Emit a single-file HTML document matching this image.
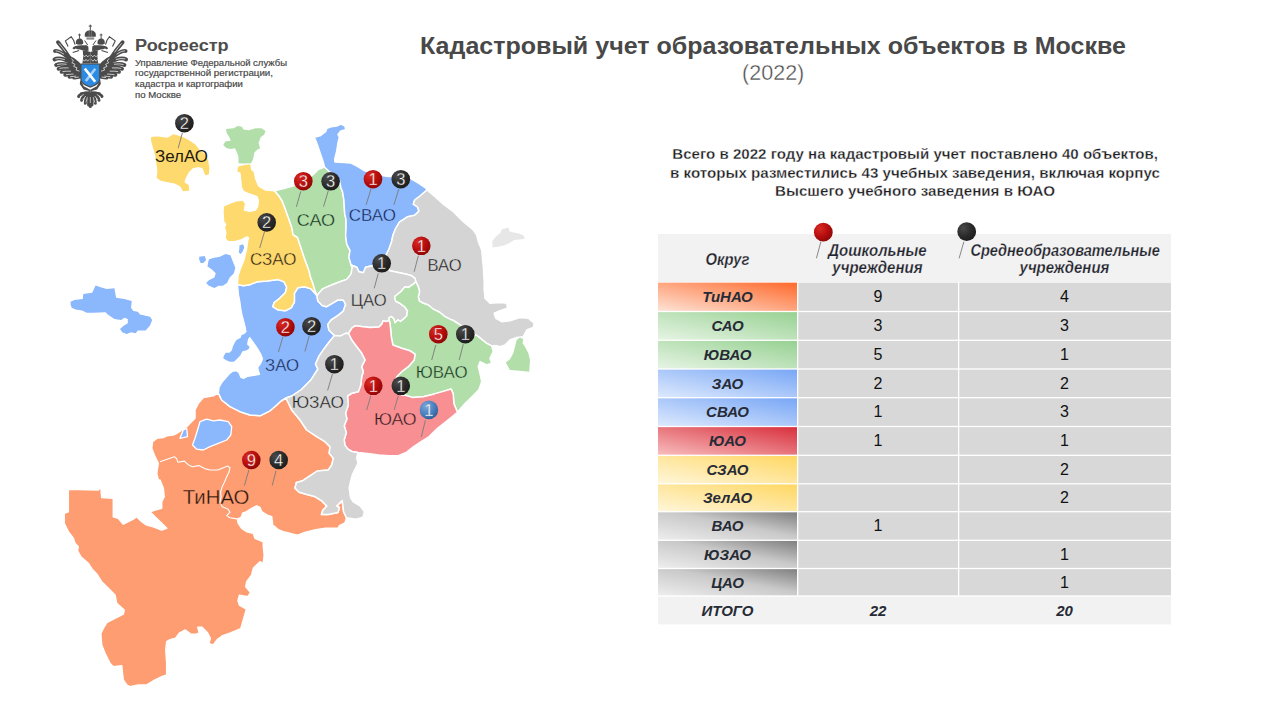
<!DOCTYPE html>
<html><head><meta charset="utf-8"><style>
html,body{margin:0;padding:0;background:#fff;}
svg{display:block;font-family:"Liberation Sans",sans-serif;}
.pa{font-size:14.5px;font-weight:bold;fill:#1c1c22;stroke:#fff;stroke-width:0.3px;}
.lg{font-size:8.2px;fill:#474747;stroke:#474747;stroke-width:0.18px;}
.th{font-size:16.3px;font-weight:bold;font-style:italic;fill:#1e222b;stroke:#f2f2f2;stroke-width:0.25px;}
.ti{font-size:15px;font-weight:bold;font-style:italic;fill:#262b35;}
.nu{font-size:16px;fill:#111;}
</style></head><body>
<svg width="1280" height="720" viewBox="0 0 1280 720">
<defs><radialGradient id="gr" cx="0.32" cy="0.3" r="0.8"><stop offset="0" stop-color="#d92a22"/><stop offset="0.55" stop-color="#b50d0d"/><stop offset="1" stop-color="#880707"/></radialGradient><radialGradient id="gk" cx="0.32" cy="0.3" r="0.8"><stop offset="0" stop-color="#4a4a4a"/><stop offset="0.55" stop-color="#2b2b2b"/><stop offset="1" stop-color="#1a1a1a"/></radialGradient><radialGradient id="gb" cx="0.35" cy="0.3" r="0.75"><stop offset="0" stop-color="#7aa6d6"/><stop offset="0.6" stop-color="#4a80bd"/><stop offset="1" stop-color="#2f5f96"/></radialGradient><linearGradient id="tor" x1="0" y1="1" x2="1" y2="0"><stop offset="0" stop-color="#fde3d6"/><stop offset="1" stop-color="#ff6a2c"/></linearGradient><linearGradient id="tgr" x1="0" y1="1" x2="1" y2="0"><stop offset="0" stop-color="#e6f4e4"/><stop offset="1" stop-color="#97d192"/></linearGradient><linearGradient id="tbl" x1="0" y1="1" x2="1" y2="0"><stop offset="0" stop-color="#dde9fd"/><stop offset="1" stop-color="#79a7f6"/></linearGradient><linearGradient id="trd" x1="0" y1="1" x2="1" y2="0"><stop offset="0" stop-color="#f8bcbd"/><stop offset="1" stop-color="#d8303d"/></linearGradient><linearGradient id="tye" x1="0" y1="1" x2="1" y2="0"><stop offset="0" stop-color="#fff6da"/><stop offset="1" stop-color="#ffd762"/></linearGradient><linearGradient id="tgy" x1="0" y1="1" x2="1" y2="0"><stop offset="0" stop-color="#ededed"/><stop offset="0.55" stop-color="#c9c9c9"/><stop offset="1" stop-color="#808080"/></linearGradient></defs>
<rect width="1280" height="720" fill="#fff"/>

<text x="420" y="53.75" font-size="24.5" font-weight="bold" fill="#484848" textLength="706" lengthAdjust="spacingAndGlyphs">Кадастровый учет образовательных объектов в Москве</text>
<text x="742" y="80" font-size="21.5" fill="#474747" stroke="#fff" stroke-width="0.4" textLength="62.3" lengthAdjust="spacingAndGlyphs">(2022)</text>
<text x="672.3" y="158.75" class="pa" textLength="485.7" lengthAdjust="spacingAndGlyphs">Всего в 2022 году на кадастровый учет поставлено 40 объектов,</text>
<text x="670" y="177.5" class="pa" textLength="490" lengthAdjust="spacingAndGlyphs">в которых разместились 43 учебных заведения, включая корпус</text>
<text x="775" y="196.25" class="pa" textLength="280" lengthAdjust="spacingAndGlyphs">Высшего учебного заведения в ЮАО</text>
<text x="135" y="51.25" font-size="17.4" font-weight="bold" fill="#4d4d4d" textLength="93.7" lengthAdjust="spacingAndGlyphs">Росреестр</text>
<text x="135" y="65.6" class="lg" textLength="152" lengthAdjust="spacingAndGlyphs">Управление Федеральной службы</text>
<text x="135" y="76.4" class="lg" textLength="138" lengthAdjust="spacingAndGlyphs">государственной регистрации,</text>
<text x="135" y="87" class="lg" textLength="107.8" lengthAdjust="spacingAndGlyphs">кадастра и картографии</text>
<text x="135" y="97.5" class="lg" textLength="46" lengthAdjust="spacingAndGlyphs">по Москве</text>


<g id="lg">
<g>
 <path d="M68,55 L74,58 L79,62 L81.8,65.5 L81.8,75 L79,74 L75,68 L70,61 Z" fill="#4b4b4b"/>
 <g stroke="#4b4b4b" stroke-width="3.9" fill="none" stroke-linecap="round"><path d="M71,60 Q64.5,49.5 58,42.2"/><path d="M72.5,61.5 Q60,49.5 55,51"/><path d="M74.5,64.2 Q60,56 54.5,59.5"/><path d="M76.2,67 Q62,62 56.2,65"/><path d="M77.5,69.5 Q64.5,66.5 58.6,68.8"/><path d="M78.6,71.8 Q67.5,70.5 61.6,71.8"/><path d="M79.6,73.8 Q71,74 65.2,74.8"/><path d="M80.4,75.4 Q74.5,76.4 69.5,76.8"/><path d="M81,76.4 Q78,77.4 74.2,77.6"/></g><g stroke="#fff" stroke-width="0.7" fill="none" stroke-linecap="round" stroke-linejoin="round"><path d="M65.80,52.11 L62.55,47.70 L59.30,43.69"/><path d="M63.70,54.06 L59.42,51.60 L56.08,50.84"/><path d="M64.34,59.51 L59.45,58.48 L55.69,58.92"/><path d="M66.18,64.28 L61.29,63.88 L57.44,64.48"/><path d="M68.24,67.95 L63.60,67.84 L59.85,68.39"/><path d="M70.55,71.18 L66.37,71.21 L62.83,71.57"/><path d="M73.17,74.06 L69.60,74.31 L66.39,74.65"/><path d="M75.82,76.10 L73.11,76.45 L70.51,76.71"/><path d="M78.47,77.07 L76.76,77.36 L74.95,77.55"/></g>
 <path d="M71.5,58.5 L73.5,61 L71.8,62.6 L75,64.4 L73.6,66.4 L77,67.8 L76,70 L79.5,71.2" stroke="#fff" stroke-width="0.7" fill="none"/>
 <!-- crown side -->
 <path d="M76,44 C75.3,41 76.5,38.6 79.5,38.2 C82.5,38.6 83.7,41 83,44 Z" fill="#4b4b4b"/>
 <rect x="77.3" y="44" width="4.9" height="1.2" fill="#8c8c8c"/>
 <rect x="79.05" y="33.6" width="0.9" height="4.8" fill="#4b4b4b"/>
 <rect x="78.1" y="34.5" width="2.8" height="0.9" fill="#4b4b4b"/>
 <!-- head -->
 <path d="M72.4,48.3 L73.8,46.8 L75.6,46.1 L79,45.6 L83,45.2 L86.6,45.2 L88.3,46.5 L88.6,50.7 L86,51 L83,50.6 L80,49.6 L77.5,49.2 L75.5,48.6 L74,49.4 Z" fill="#4b4b4b"/>
 <path d="M72.7,52.6 L79.1,50.6" stroke="#4b4b4b" stroke-width="1.1" fill="none"/>
 <!-- sceptre/claw -->
 <path d="M68.1,46.4 L65.4,40.9 L71.2,36.7 L73.6,40.3 L75.1,44.6" stroke="#4b4b4b" stroke-width="1.15" fill="none" stroke-linejoin="round"/>
 <!-- neck -->
 <path d="M82.8,50.6 L86.5,50.8 L90.3,52 L90.3,63.6 L82.4,63.6 L83.2,57 Z" fill="#4b4b4b"/>
 <g stroke="#fff" stroke-width="0.7" fill="none">
  <path d="M83,55.2 L84.6,56.8 L86.2,55.2 L87.8,56.8 L89.4,55.2"/>
  <path d="M82.8,59.4 L84.4,61.2 L86,59.4 L87.6,61.2 L89.2,59.4"/>
 </g>
 <path d="M84.6,40.5 L87.7,45" stroke="#4b4b4b" stroke-width="1" fill="none"/>
 <!-- tail half -->
 <path d="M80,92.5 L90.3,91 L90.3,95 L82,96 Z" fill="#4b4b4b"/>
 <g stroke="#4b4b4b" stroke-width="3" fill="none" stroke-linecap="round">
  <path d="M86,93 Q80,93.5 78.6,96.5"/>
  <path d="M87.2,94 Q82.5,96 81.6,100.2"/>
  <path d="M88.4,94.5 Q85.5,98 85.3,103.2"/>
  <path d="M89.5,95 Q88.5,100 88.6,105"/>
 </g>
 <g stroke="#fff" stroke-width="0.65" fill="none" stroke-linecap="round">
  <path d="M83.5,94.6 L80.2,96.8"/>
  <path d="M85.6,96.3 L82.8,99.8"/>
  <path d="M87.3,97.6 L86,102.2"/>
 </g>
 <!-- leg/scroll -->
 <path d="M80.3,80 L83.8,86.2 L90.3,89.8 L90.3,91.2 L83.6,89.6 L79.8,84 Z" fill="#4b4b4b"/>
</g>
<g transform="translate(180.6,0) scale(-1,1)">
 <path d="M68,55 L74,58 L79,62 L81.8,65.5 L81.8,75 L79,74 L75,68 L70,61 Z" fill="#4b4b4b"/>
 <g stroke="#4b4b4b" stroke-width="3.9" fill="none" stroke-linecap="round"><path d="M71,60 Q64.5,49.5 58,42.2"/><path d="M72.5,61.5 Q60,49.5 55,51"/><path d="M74.5,64.2 Q60,56 54.5,59.5"/><path d="M76.2,67 Q62,62 56.2,65"/><path d="M77.5,69.5 Q64.5,66.5 58.6,68.8"/><path d="M78.6,71.8 Q67.5,70.5 61.6,71.8"/><path d="M79.6,73.8 Q71,74 65.2,74.8"/><path d="M80.4,75.4 Q74.5,76.4 69.5,76.8"/><path d="M81,76.4 Q78,77.4 74.2,77.6"/></g><g stroke="#fff" stroke-width="0.7" fill="none" stroke-linecap="round" stroke-linejoin="round"><path d="M65.80,52.11 L62.55,47.70 L59.30,43.69"/><path d="M63.70,54.06 L59.42,51.60 L56.08,50.84"/><path d="M64.34,59.51 L59.45,58.48 L55.69,58.92"/><path d="M66.18,64.28 L61.29,63.88 L57.44,64.48"/><path d="M68.24,67.95 L63.60,67.84 L59.85,68.39"/><path d="M70.55,71.18 L66.37,71.21 L62.83,71.57"/><path d="M73.17,74.06 L69.60,74.31 L66.39,74.65"/><path d="M75.82,76.10 L73.11,76.45 L70.51,76.71"/><path d="M78.47,77.07 L76.76,77.36 L74.95,77.55"/></g>
 <path d="M71.5,58.5 L73.5,61 L71.8,62.6 L75,64.4 L73.6,66.4 L77,67.8 L76,70 L79.5,71.2" stroke="#fff" stroke-width="0.7" fill="none"/>
 <!-- crown side -->
 <path d="M76,44 C75.3,41 76.5,38.6 79.5,38.2 C82.5,38.6 83.7,41 83,44 Z" fill="#4b4b4b"/>
 <rect x="77.3" y="44" width="4.9" height="1.2" fill="#8c8c8c"/>
 <rect x="79.05" y="33.6" width="0.9" height="4.8" fill="#4b4b4b"/>
 <rect x="78.1" y="34.5" width="2.8" height="0.9" fill="#4b4b4b"/>
 <!-- head -->
 <path d="M72.4,48.3 L73.8,46.8 L75.6,46.1 L79,45.6 L83,45.2 L86.6,45.2 L88.3,46.5 L88.6,50.7 L86,51 L83,50.6 L80,49.6 L77.5,49.2 L75.5,48.6 L74,49.4 Z" fill="#4b4b4b"/>
 <path d="M72.7,52.6 L79.1,50.6" stroke="#4b4b4b" stroke-width="1.1" fill="none"/>
 <!-- sceptre/claw -->
 <path d="M68.1,46.4 L65.4,40.9 L71.2,36.7 L73.6,40.3 L75.1,44.6" stroke="#4b4b4b" stroke-width="1.15" fill="none" stroke-linejoin="round"/>
 <!-- neck -->
 <path d="M82.8,50.6 L86.5,50.8 L90.3,52 L90.3,63.6 L82.4,63.6 L83.2,57 Z" fill="#4b4b4b"/>
 <g stroke="#fff" stroke-width="0.7" fill="none">
  <path d="M83,55.2 L84.6,56.8 L86.2,55.2 L87.8,56.8 L89.4,55.2"/>
  <path d="M82.8,59.4 L84.4,61.2 L86,59.4 L87.6,61.2 L89.2,59.4"/>
 </g>
 <path d="M84.6,40.5 L87.7,45" stroke="#4b4b4b" stroke-width="1" fill="none"/>
 <!-- tail half -->
 <path d="M80,92.5 L90.3,91 L90.3,95 L82,96 Z" fill="#4b4b4b"/>
 <g stroke="#4b4b4b" stroke-width="3" fill="none" stroke-linecap="round">
  <path d="M86,93 Q80,93.5 78.6,96.5"/>
  <path d="M87.2,94 Q82.5,96 81.6,100.2"/>
  <path d="M88.4,94.5 Q85.5,98 85.3,103.2"/>
  <path d="M89.5,95 Q88.5,100 88.6,105"/>
 </g>
 <g stroke="#fff" stroke-width="0.65" fill="none" stroke-linecap="round">
  <path d="M83.5,94.6 L80.2,96.8"/>
  <path d="M85.6,96.3 L82.8,99.8"/>
  <path d="M87.3,97.6 L86,102.2"/>
 </g>
 <!-- leg/scroll -->
 <path d="M80.3,80 L83.8,86.2 L90.3,89.8 L90.3,91.2 L83.6,89.6 L79.8,84 Z" fill="#4b4b4b"/>
</g>
<path d="M90.3,94 L90.3,106.4" stroke="#4b4b4b" stroke-width="3" stroke-linecap="round"/>
<path d="M90.3,97 L90.3,103" stroke="#fff" stroke-width="0.6"/>
<!-- center crown -->
<path d="M84.9,36.8 C84.2,32.8 85.8,30.7 90.3,30.3 C94.8,30.7 96.4,32.8 95.7,36.8 Z" fill="#4b4b4b"/>
<rect x="86.4" y="37.4" width="7.8" height="2.2" fill="#8c8c8c"/>
<rect x="89.8" y="24.6" width="1" height="5.8" fill="#4b4b4b"/>
<rect x="88.7" y="25.6" width="3.2" height="1" fill="#4b4b4b"/>
<path d="M89.2,31 L89.2,36.6 M91.4,31 L91.4,36.6" stroke="#8c8c8c" stroke-width="0.6"/>
<!-- shield -->
<path d="M80.4,63.5 L100.2,63.5 L100.2,79.5 C100.2,83.5 95,86.2 90.3,87.7 C85.6,86.2 80.4,83.5 80.4,79.5 Z" fill="#4b4b4b"/>
<path d="M81.5,64.6 L99.1,64.6 L99.1,79.3 C99.1,82.7 94.6,84.9 90.3,86.4 C86,84.9 81.5,82.7 81.5,79.3 Z" fill="#2b8ae2"/>
<path d="M95.3,68.8 L85.8,81" stroke="#a8d0f5" stroke-width="2.6"/>
<path d="M84.8,68.6 L95.2,81.8" stroke="#fff" stroke-width="2.6"/>
</g>

<g stroke="#fff" stroke-width="1.5" stroke-linejoin="round">
<polygon points="218.3,393.0 221.7,400.0 230.0,406.7 240.0,411.7 250.0,415.0 260.0,415.8 270.0,410.8 276.7,405.0 281.0,401.0 286.0,398.0 291.7,410.0 300.0,420.0 306.7,430.0 316.7,436.7 325.0,441.7 330.0,446.7 329.2,453.3 333.3,458.3 331.7,465.0 328.3,470.0 317.2,471.0 310.3,475.6 302.0,481.1 296.4,482.5 295.0,488.1 299.2,492.2 306.1,494.3 314.4,496.4 321.4,500.6 326.9,506.1 322.8,510.3 321.4,514.4 328.3,514.4 338.0,512.4 339.4,507.5 336.7,506.1 342.2,500.6 343.6,511.7 346.5,518.0 345.0,522.8 339.4,525.6 338.0,528.3 325.6,528.3 315.8,529.7 304.7,532.5 297.8,535.3 293.3,534.2 286.7,532.5 283.3,531.7 278.3,529.7 275.0,526.7 272.8,525.6 272.1,520.0 271.7,516.7 266.7,515.0 261.7,511.7 260.0,507.5 256.7,505.8 251.7,508.3 246.7,511.7 242.5,513.3 241.7,516.7 237.5,520.0 238.3,523.3 241.7,528.3 246.7,531.7 253.3,533.3 255.0,538.3 263.3,541.7 263.3,546.7 264.2,555.0 263.3,563.3 260.0,561.7 253.3,568.3 251.7,575.0 246.7,581.7 245.8,586.7 250.6,592.5 247.8,596.7 239.4,595.3 238.0,600.8 239.4,605.0 246.4,609.2 243.6,618.9 240.8,628.6 231.1,632.8 222.8,635.6 217.2,639.7 213.0,645.3 208.9,643.2 210.3,638.3 207.5,632.8 202.0,627.2 197.8,627.2 199.2,632.8 196.4,634.2 190.8,634.2 185.3,630.0 179.7,632.8 175.6,638.3 170.0,639.7 166.7,641.7 165.8,650.0 166.7,663.3 166.7,675.0 161.7,676.7 155.0,680.0 146.7,685.0 138.3,685.0 130.0,686.7 126.7,685.0 123.3,680.0 122.5,673.3 121.7,665.8 113.3,666.7 110.0,663.3 105.0,653.3 101.7,645.0 100.8,633.3 103.3,628.3 106.7,622.5 115.0,618.3 123.3,614.2 124.2,610.0 116.7,603.3 115.0,595.0 108.3,588.3 101.7,581.7 96.7,574.0 92.0,569.0 88.3,563.3 80.8,556.7 77.5,550.8 78.3,546.7 75.0,543.3 73.3,538.3 68.3,531.7 64.2,523.3 64.2,513.3 68.3,511.7 68.3,489.2 98.3,490.0 100.8,486.7 101.7,497.5 113.3,498.3 113.3,516.7 118.3,518.3 123.3,524.2 128.3,521.7 133.3,519.2 136.7,516.7 141.7,521.7 146.7,525.0 153.3,526.7 161.7,530.0 166.7,528.3 161.7,523.3 155.0,516.7 150.0,511.7 155.0,510.0 161.7,508.3 161.7,501.7 164.2,496.7 163.3,488.3 160.0,480.0 158.3,480.0 156.7,473.3 158.3,463.3 155.0,456.7 151.7,448.3 152.5,441.7 156.7,438.3 163.3,437.5 166.7,435.8 173.3,435.0 176.7,433.3 181.7,430.0 186.7,426.7 190.0,423.3 195.0,418.3 195.0,410.0 198.3,403.3 203.3,397.5 213.3,395.8" fill="#fe9d71"/>
<polygon points="237.4,284.4 243.6,285.8 250.6,284.4 257.5,281.7 267.2,281.0 278.3,279.6 283.9,281.7 286.7,287.2 285.3,292.8 279.7,298.3 274.2,302.5 272.8,306.7 278.3,310.1 285.3,310.8 291.1,307.8 294.4,302.2 294.4,293.3 297.8,287.8 304.4,286.7 311.1,288.9 317.0,295.5 317.8,301.1 322.2,305.6 326.7,306.7 332.2,303.3 337.8,300.0 343.3,300.0 345.6,304.4 343.3,311.1 337.8,315.6 331.1,320.0 327.8,324.4 328.9,330.0 334.4,335.6 329.0,342.2 324.5,348.2 318.9,356.4 315.5,364.2 317.9,369.0 311.1,379.7 301.4,389.5 291.7,396.0 286.0,398.0 281.0,401.0 276.7,405.0 270.0,410.8 260.0,415.8 250.0,415.0 240.0,411.7 230.0,406.7 221.7,400.0 218.3,393.0 219.0,387.0 222.0,382.0 226.0,377.5 229.0,374.0 232.5,371.2 236.1,370.4 239.0,372.4 241.0,377.2 243.9,378.2 247.8,376.2 253.6,375.3 259.4,374.3 258.5,371.4 257.5,367.5 260.4,363.6 262.4,358.7 260.4,353.9 257.5,349.0 253.6,343.2 249.7,337.8 248.7,339.3 247.8,344.2 250.2,346.1 249.7,349.0 246.8,351.0 242.9,351.9 241.0,355.8 237.1,359.7 234.2,362.6 230.3,362.6 225.4,360.7 222.5,358.7 223.0,355.8 225.4,351.9 229.3,351.9 231.2,350.0 232.2,346.1 234.2,342.2 236.1,339.3 240.0,337.4 241.0,334.4 243.9,333.5 245.8,331.5 244.9,326.7 243.4,320.8 241.9,315.0 240.8,310.0 239.8,302.0 238.4,295.0" fill="#8bb7fd"/>
<polygon points="237.4,284.4 238.0,276.1 240.1,269.2 243.6,260.8 246.4,249.7 247.8,240.0 248.6,238.3 247.2,236.9 241.7,239.7 234.7,241.8 227.8,241.8 225.0,238.3 225.7,232.8 224.3,227.2 225.7,224.4 223.6,221.7 222.9,210.6 223.6,205.7 232.0,202.2 236.1,200.8 243.0,200.1 245.8,203.6 244.4,209.9 250.0,211.3 255.6,209.9 257.6,206.4 258.3,200.8 257.0,196.7 252.8,195.3 247.2,193.2 243.3,191.4 241.3,187.2 240.6,180.3 239.9,173.3 236.4,172.0 237.8,165.7 244.7,164.3 251.0,163.6 251.7,169.2 254.4,172.0 255.8,178.9 258.6,185.8 265.6,190.0 274.5,190.7 279.0,196.0 282.2,201.0 285.0,208.3 289.0,219.4 291.9,227.8 293.0,234.7 297.5,237.5 300.3,245.8 304.4,258.3 308.6,269.4 310.5,277.0 312.8,283.3 314.5,289.0 317.0,295.5 311.1,288.9 304.4,286.7 297.8,287.8 294.4,293.3 294.4,302.2 291.1,307.8 285.3,310.8 278.3,310.1 272.8,306.7 274.2,302.5 279.7,298.3 285.3,292.8 286.7,287.2 283.9,281.7 278.3,279.6 267.2,281.0 257.5,281.7 250.6,284.4 243.6,285.8" fill="#fdd96e"/>
<polygon points="274.5,190.7 283.9,188.6 293.6,185.8 304.7,180.3 313.0,174.7 318.6,169.2 324.5,167.0 329.7,172.0 335.3,174.7 339.4,180.3 340.8,187.2 342.5,191.7 343.9,200.0 344.7,213.9 346.0,219.4 346.1,227.8 345.6,235.0 346.7,243.9 350.0,250.6 348.9,257.2 351.1,265.0 352.2,267.2 351.1,273.9 346.7,279.4 340.6,281.5 332.2,284.7 322.5,288.9 317.0,295.5 314.5,289.0 312.8,283.3 310.5,277.0 308.6,269.4 304.4,258.3 300.3,245.8 297.5,237.5 293.0,234.7 291.9,227.8 289.0,219.4 285.0,208.3 282.2,201.0 279.0,196.0" fill="#b2deaa"/>
<polygon points="324.5,167.0 322.8,160.8 320.0,152.5 317.2,144.2 314.4,137.2 320.0,135.8 325.6,131.7 326.9,128.2 331.1,126.8 336.7,126.1 340.8,124.0 345.0,126.1 345.7,129.6 340.8,131.0 338.0,134.4 339.4,137.2 338.0,142.8 336.7,151.1 334.6,159.4 335.0,162.0 343.9,162.5 350.6,162.9 357.8,166.7 364.7,170.8 374.4,174.3 388.3,176.4 399.4,176.4 410.6,178.5 418.9,183.3 425.8,188.2 427.0,190.0 420.3,195.8 414.7,200.0 413.3,204.2 417.5,207.0 418.9,211.1 414.7,215.3 407.8,216.7 399.4,222.2 395.3,229.2 393.0,235.0 391.5,242.0 389.0,249.0 386.0,255.0 384.0,262.0 377.0,265.0 371.1,266.1 365.6,267.2 363.3,272.8 358.9,271.7 356.7,267.2 351.1,265.0 348.9,257.2 350.0,250.6 346.7,243.9 345.6,235.0 346.1,227.8 346.0,219.4 344.7,213.9 343.9,200.0 342.5,191.7 340.8,187.2 339.4,180.3 335.3,174.7 329.7,172.0" fill="#8bb7fd"/>
<polygon points="427.0,190.0 435.0,196.7 443.3,204.2 453.3,211.7 463.3,221.7 473.3,230.0 476.7,235.0 478.3,241.7 481.7,250.0 483.3,266.7 484.2,281.7 484.2,290.0 485.0,298.3 490.0,303.3 500.0,302.5 506.7,303.3 507.5,308.3 500.0,310.8 494.2,313.3 495.8,318.3 501.7,321.7 510.0,320.8 520.0,317.5 528.3,318.3 534.2,323.3 533.3,327.5 526.7,330.0 523.3,336.7 516.7,337.5 510.0,340.0 505.0,345.0 500.0,346.7 496.7,345.8 491.7,345.8 486.7,343.3 478.3,336.7 470.0,331.7 461.7,325.8 453.3,320.5 450.0,319.2 445.0,316.7 440.0,312.5 433.3,309.2 428.3,305.0 423.3,303.3 419.2,300.8 418.3,296.7 419.6,291.7 418.3,286.7 415.8,281.7 415.0,278.3 411.7,275.8 406.7,274.2 398.3,272.5 390.0,270.8 384.0,262.0 386.0,255.0 389.0,249.0 391.5,242.0 393.0,235.0 395.3,229.2 399.4,222.2 407.8,216.7 414.7,215.3 418.9,211.1 417.5,207.0 413.3,204.2 414.7,200.0 420.3,195.8" fill="#d4d4d4"/>
<polygon points="351.1,265.0 352.2,267.2 351.1,273.9 346.7,279.4 340.6,281.5 332.2,284.7 322.5,288.9 317.0,295.5 317.8,301.1 322.2,305.6 326.7,306.7 332.2,303.3 337.8,300.0 343.3,300.0 345.6,304.4 343.3,311.1 337.8,315.6 331.1,320.0 327.8,324.4 328.9,330.0 334.4,335.6 340.0,336.1 345.6,333.3 348.5,333.5 352.0,328.0 355.0,325.8 363.3,326.7 370.0,327.4 379.0,327.0 381.8,324.2 383.2,320.7 386.0,321.4 389.4,320.7 388.8,317.9 391.5,316.5 393.6,318.6 395.0,322.8 397.8,320.0 400.6,321.4 404.0,318.6 406.8,315.8 407.5,311.0 404.7,306.8 399.9,303.3 395.7,301.3 394.6,296.7 396.7,295.0 400.8,291.7 405.0,286.7 408.3,287.5 413.3,284.2 415.8,281.7 415.0,278.3 411.7,275.8 406.7,274.2 398.3,272.5 390.0,270.8 384.0,262.0 377.0,265.0 371.1,266.1 365.6,267.2 363.3,272.8 358.9,271.7 356.7,267.2" fill="#d4d4d4"/>
<polygon points="415.8,281.7 418.3,286.7 419.6,291.7 418.3,296.7 419.2,300.8 423.3,303.3 428.3,305.0 433.3,309.2 440.0,312.5 445.0,316.7 450.0,319.2 453.3,320.5 461.7,325.8 470.0,331.7 478.3,336.7 486.7,343.3 491.7,345.8 493.3,351.7 490.0,358.3 491.7,363.3 486.7,365.0 480.0,361.7 478.3,366.7 480.0,373.3 481.7,381.7 478.9,389.7 472.0,396.7 465.0,403.6 457.4,412.2 453.9,403.6 453.2,393.9 451.1,389.0 444.2,391.1 434.4,393.9 423.3,396.7 412.2,397.4 405.3,395.3 401.7,395.0 396.7,390.0 395.0,383.3 396.7,376.7 401.7,371.7 408.3,366.7 414.2,360.0 415.0,354.2 410.0,350.8 401.7,348.3 392.9,345.0 391.5,338.1 390.8,331.1 390.1,324.2 389.4,320.7 388.8,317.9 391.5,316.5 393.6,318.6 395.0,322.8 397.8,320.0 400.6,321.4 404.0,318.6 406.8,315.8 407.5,311.0 404.7,306.8 399.9,303.3 395.7,301.3 394.6,296.7 396.7,295.0 400.8,291.7 405.0,286.7 408.3,287.5 413.3,284.2" fill="#b2deaa"/>
<polygon points="348.5,333.5 352.0,328.0 355.0,325.8 363.3,326.7 370.0,327.4 379.0,327.0 381.8,324.2 383.2,320.7 386.0,321.4 389.4,320.7 390.1,324.2 390.8,331.1 391.5,338.1 392.9,345.0 401.7,348.3 410.0,350.8 415.0,354.2 414.2,360.0 408.3,366.7 401.7,371.7 396.7,376.7 395.0,383.3 396.7,390.0 401.7,395.0 405.3,395.3 412.2,397.4 423.3,396.7 434.4,393.9 444.2,391.1 451.1,389.0 453.2,393.9 453.9,403.6 457.4,412.2 451.1,417.5 444.2,423.1 437.2,428.6 428.9,436.9 421.9,441.1 413.6,446.7 406.7,452.2 398.3,455.7 388.6,455.7 378.9,455.0 367.8,453.6 358.0,452.5 352.0,451.5 348.3,449.4 344.9,445.3 344.2,439.7 346.3,432.8 344.2,425.8 346.9,418.9 345.6,413.3 348.3,405.0 347.5,396.0 351.7,393.3 358.3,391.7 360.8,385.0 361.7,376.7 363.3,371.7 361.7,366.7 365.0,360.0 361.7,353.3 356.7,346.7 351.7,340.0" fill="#f89093"/>
<polygon points="334.4,335.6 340.0,336.1 345.6,333.3 348.5,333.5 351.7,340.0 356.7,346.7 361.7,353.3 365.0,360.0 361.7,366.7 363.3,371.7 361.7,376.7 360.8,385.0 358.3,391.7 351.7,393.3 347.5,396.0 348.3,405.0 345.6,413.3 346.9,418.9 344.2,425.8 346.3,432.8 344.2,439.7 344.9,445.3 348.3,449.4 352.0,451.5 358.0,452.5 356.7,457.8 358.0,463.3 355.3,468.9 352.5,474.4 350.6,481.1 349.2,488.1 350.6,497.8 353.3,501.9 360.3,506.1 364.4,511.7 363.1,517.2 356.1,519.3 347.8,517.9 346.5,518.0 343.6,511.7 342.2,500.6 336.7,506.1 339.4,507.5 338.0,512.4 328.3,514.4 321.4,514.4 322.8,510.3 326.9,506.1 321.4,500.6 314.4,496.4 306.1,494.3 299.2,492.2 295.0,488.1 296.4,482.5 302.0,481.1 310.3,475.6 317.2,471.0 328.3,470.0 331.7,465.0 333.3,458.3 329.2,453.3 330.0,446.7 325.0,441.7 316.7,436.7 306.7,430.0 300.0,420.0 291.7,410.0 286.0,398.0 291.7,396.0 301.4,389.5 311.1,379.7 317.9,369.0 315.5,364.2 318.9,356.4 324.5,348.2 329.0,342.2" fill="#d4d4d4"/>
<polygon points="151.1,137.1 158.0,136.4 167.8,137.8 173.3,134.3 181.7,136.4 188.6,139.9 195.6,144.7 199.7,150.3 205.3,154.4 208.0,160.0 209.4,168.3 208.8,174.6 205.3,175.3 202.5,168.3 198.3,167.0 192.8,168.3 188.6,172.5 185.8,178.0 184.4,182.2 188.6,185.0 189.3,190.6 183.0,191.3 180.3,186.4 174.7,183.6 167.8,182.2 160.8,180.8 156.7,178.0 157.4,171.1 156.7,165.6 155.3,155.8 152.5,146.1 151.1,140.6" fill="#fdd96e" stroke-width="0"/>
<polygon points="226.0,128.9 233.6,128.2 237.8,126.1 241.9,126.8 243.3,129.6 248.9,130.3 255.8,128.2 261.4,128.2 265.6,131.0 264.2,134.4 260.7,137.2 258.6,142.8 260.0,148.3 257.2,149.7 254.4,152.5 253.0,159.4 251.0,163.2 244.7,163.6 238.5,163.2 238.5,156.7 237.0,152.5 235.0,148.3 230.8,149.0 226.7,148.3 223.2,144.9 225.3,141.4 230.8,140.7 229.4,137.2 226.7,133.0" fill="#b2deaa" stroke-width="0"/>
<polygon points="70.6,301.7 74.4,300.0 82.8,298.9 83.3,293.9 92.2,292.8 95.6,285.6 102.2,287.8 106.7,288.9 114.4,288.3 116.1,297.8 124.4,298.9 131.7,301.1 131.1,307.8 133.3,311.1 137.8,311.7 140.0,314.4 150.0,316.7 152.2,320.0 150.0,325.6 145.6,330.6 137.8,330.6 135.6,333.3 131.1,332.2 126.7,333.9 122.2,332.2 120.0,328.9 123.3,326.1 127.8,323.3 127.8,318.9 124.4,317.8 121.1,320.0 114.4,318.9 107.8,314.4 105.6,312.2 93.3,312.8 86.7,312.8 82.2,310.6 75.6,309.4 71.7,307.8 70.6,304.4" fill="#8bb7fd" stroke-width="0"/>
<polygon points="208.9,259.4 213.0,258.0 220.0,256.7 225.6,253.9 230.4,255.3 232.5,260.8 235.3,267.8 233.9,273.3 229.7,277.5 227.0,283.0 222.8,285.8 218.6,285.8 214.4,287.9 208.9,285.8 206.1,283.0 208.9,280.3 214.4,277.5 215.8,273.3 211.7,269.2 207.5,266.4 208.2,262.2" fill="#8bb7fd" stroke-width="0"/>
<polygon points="199.2,256.7 204.7,256.0 206.1,260.1 203.3,262.9 200.6,262.9 199.2,259.4" fill="#8bb7fd" stroke-width="0"/>
<polygon points="239.4,245.6 242.9,244.2 244.3,246.9 242.9,251.1 240.8,253.9 238.8,252.5 239.4,248.3" fill="#8bb7fd" stroke-width="0"/>
<polygon points="492.2,241.6 495.5,237.0 500.5,232.8 501.8,229.5 505.5,228.2 508.4,227.4 509.7,231.6 513.8,232.4 519.7,233.7 523.8,235.8 524.7,238.7 519.7,239.5 513.8,239.9 511.3,242.0 508.0,243.7 504.7,245.3 500.5,246.2 496.3,247.0 492.6,247.4" fill="#e7e7e7" stroke-width="0"/>
<polygon points="520.0,337.5 523.3,339.2 522.5,343.3 525.0,346.7 528.3,353.3 530.0,360.0 529.2,371.7 520.0,370.8 510.0,370.0 505.8,362.5 510.0,359.2 513.3,353.3 515.0,346.7 516.7,340.0" fill="#b2deaa" stroke-width="0"/>
<polygon points="200.0,421.7 206.7,419.2 213.3,420.8 220.0,420.0 228.3,421.7 231.7,426.7 230.8,435.0 226.7,440.0 218.3,443.3 210.0,446.7 203.3,450.0 196.7,449.2 192.5,445.0 195.0,438.3 197.5,430.0" fill="#8bb7fd" stroke-width="1.3"/>
<polygon points="183.3,430.0 186.7,428.3 187.5,436.7 180.0,438.3" fill="#8bb7fd" stroke-width="1.3"/>
</g>
<polyline points="160.0,461.7 170.0,458.3 174.4,456.7 176.7,458.9 177.8,462.2 184.4,461.1 187.8,464.4 192.2,466.7 198.9,465.6 205.6,468.9 210.0,470.0 217.8,470.0 223.3,467.8 227.8,466.1 230.0,467.8 228.9,472.2 226.7,476.7 224.4,482.2 222.2,486.7 220.6,492.2 221.1,496.7 220.0,502.2 222.2,506.7 227.8,508.9 230.0,512.2 226.7,515.6 230.0,517.8 236.7,518.9 239.0,518.0" fill="none" stroke="#fff" stroke-width="1.1" stroke-linejoin="round"/>
<text x="155" y="161.7" font-size="16.5" fill="#1e1a10" stroke="#fdd96e" stroke-width="0" textLength="53.0" lengthAdjust="spacingAndGlyphs">ЗелАО</text>
<text x="250" y="264.7" font-size="16.2" fill="#1e1a10" stroke="#fdd96e" stroke-width="0.35" textLength="46.5" lengthAdjust="spacingAndGlyphs">СЗАО</text>
<text x="296.8" y="225.5" font-size="16.7" fill="#12301a" stroke="#b2deaa" stroke-width="0.35" textLength="38.4" lengthAdjust="spacingAndGlyphs">САО</text>
<text x="348.7" y="220.6" font-size="16.7" fill="#132548" stroke="#8bb7fd" stroke-width="0.35" textLength="47.2" lengthAdjust="spacingAndGlyphs">СВАО</text>
<text x="427.5" y="270.8" font-size="17" fill="#1a1a1a" stroke="#d4d4d4" stroke-width="0.35" textLength="34.2" lengthAdjust="spacingAndGlyphs">ВАО</text>
<text x="350.8" y="305.8" font-size="17" fill="#1a1a1a" stroke="#d4d4d4" stroke-width="0.35" textLength="35.9" lengthAdjust="spacingAndGlyphs">ЦАО</text>
<text x="265" y="371" font-size="16.7" fill="#132548" stroke="#8bb7fd" stroke-width="0.35" textLength="34.0" lengthAdjust="spacingAndGlyphs">ЗАО</text>
<text x="415.8" y="377.5" font-size="16.7" fill="#12301a" stroke="#b2deaa" stroke-width="0.35" textLength="51.7" lengthAdjust="spacingAndGlyphs">ЮВАО</text>
<text x="291.7" y="408" font-size="16.7" fill="#1a1a1a" stroke="#d4d4d4" stroke-width="0.35" textLength="52.3" lengthAdjust="spacingAndGlyphs">ЮЗАО</text>
<text x="374" y="424.5" font-size="16.7" fill="#2e1a1c" stroke="#f89093" stroke-width="0.35" textLength="42.7" lengthAdjust="spacingAndGlyphs">ЮАО</text>
<text x="182.8" y="504.4" font-size="21" fill="#24180f" stroke="#fe9d71" stroke-width="0.35" textLength="66.6" lengthAdjust="spacingAndGlyphs">ТиНАО</text>
<line x1="182.4" y1="132.9" x2="178.2" y2="148.2" stroke="#7a7a7a" stroke-width="0.9"/>
<circle cx="184.4" cy="123.2" r="9.3" fill="url(#gk)"/>
<text x="184.4" y="129.1" font-size="16.5" fill="#fff" stroke="#2a2a2a" stroke-width="0.3" text-anchor="middle">2</text>
<line x1="264.6" y1="231.4" x2="259.7" y2="248" stroke="#7a7a7a" stroke-width="0.9"/>
<circle cx="266.7" cy="222.4" r="9.3" fill="url(#gk)"/>
<text x="266.7" y="228.3" font-size="16.5" fill="#fff" stroke="#2a2a2a" stroke-width="0.3" text-anchor="middle">2</text>
<line x1="300.8" y1="191.4" x2="296.4" y2="206.8" stroke="#7a7a7a" stroke-width="0.9"/>
<circle cx="303.3" cy="181.2" r="9.3" fill="url(#gr)"/>
<text x="303.3" y="187.1" font-size="16.5" fill="#fff" stroke="#b10b0b" stroke-width="0.3" text-anchor="middle">3</text>
<line x1="328.3" y1="190.7" x2="323.5" y2="206.7" stroke="#7a7a7a" stroke-width="0.9"/>
<circle cx="330.6" cy="181.3" r="9.3" fill="url(#gk)"/>
<text x="330.6" y="187.20000000000002" font-size="16.5" fill="#fff" stroke="#2a2a2a" stroke-width="0.3" text-anchor="middle">3</text>
<line x1="371" y1="188.9" x2="366.1" y2="204.9" stroke="#7a7a7a" stroke-width="0.9"/>
<circle cx="373" cy="179.2" r="9.3" fill="url(#gr)"/>
<text x="373" y="185.1" font-size="16.5" fill="#fff" stroke="#b10b0b" stroke-width="0.3" text-anchor="middle">1</text>
<line x1="398.8" y1="188.9" x2="393.9" y2="204.9" stroke="#7a7a7a" stroke-width="0.9"/>
<circle cx="400.8" cy="179.2" r="9.3" fill="url(#gk)"/>
<text x="400.8" y="185.1" font-size="16.5" fill="#fff" stroke="#2a2a2a" stroke-width="0.3" text-anchor="middle">3</text>
<line x1="418.3" y1="255.8" x2="414.2" y2="271.7" stroke="#7a7a7a" stroke-width="0.9"/>
<circle cx="421.3" cy="245.8" r="9.3" fill="url(#gr)"/>
<text x="421.3" y="251.70000000000002" font-size="16.5" fill="#fff" stroke="#b10b0b" stroke-width="0.3" text-anchor="middle">1</text>
<line x1="378.3" y1="273.3" x2="374.2" y2="288.3" stroke="#7a7a7a" stroke-width="0.9"/>
<circle cx="381.7" cy="263.3" r="9.3" fill="url(#gk)"/>
<text x="381.7" y="269.2" font-size="16.5" fill="#fff" stroke="#2a2a2a" stroke-width="0.3" text-anchor="middle">1</text>
<line x1="282.9" y1="336.9" x2="278.4" y2="352.1" stroke="#7a7a7a" stroke-width="0.9"/>
<circle cx="285.4" cy="327.2" r="9.3" fill="url(#gr)"/>
<text x="285.4" y="333.09999999999997" font-size="16.5" fill="#fff" stroke="#b10b0b" stroke-width="0.3" text-anchor="middle">2</text>
<line x1="309.2" y1="336" x2="304.9" y2="351.5" stroke="#7a7a7a" stroke-width="0.9"/>
<circle cx="311.5" cy="326.2" r="9.3" fill="url(#gk)"/>
<text x="311.5" y="332.09999999999997" font-size="16.5" fill="#fff" stroke="#2a2a2a" stroke-width="0.3" text-anchor="middle">2</text>
<line x1="435.8" y1="345" x2="431.7" y2="360" stroke="#7a7a7a" stroke-width="0.9"/>
<circle cx="438.3" cy="334.2" r="9.3" fill="url(#gr)"/>
<text x="438.3" y="340.09999999999997" font-size="16.5" fill="#fff" stroke="#b10b0b" stroke-width="0.3" text-anchor="middle">5</text>
<line x1="463.3" y1="344.2" x2="459.2" y2="360" stroke="#7a7a7a" stroke-width="0.9"/>
<circle cx="465.3" cy="334.2" r="9.3" fill="url(#gk)"/>
<text x="465.3" y="340.09999999999997" font-size="16.5" fill="#fff" stroke="#2a2a2a" stroke-width="0.3" text-anchor="middle">1</text>
<line x1="332.5" y1="373.9" x2="327.6" y2="390.4" stroke="#7a7a7a" stroke-width="0.9"/>
<circle cx="334.4" cy="364.2" r="9.3" fill="url(#gk)"/>
<text x="334.4" y="370.09999999999997" font-size="16.5" fill="#fff" stroke="#2a2a2a" stroke-width="0.3" text-anchor="middle">1</text>
<line x1="370.8" y1="395.8" x2="366.7" y2="410" stroke="#7a7a7a" stroke-width="0.9"/>
<circle cx="373.3" cy="385.8" r="9.3" fill="url(#gr)"/>
<text x="373.3" y="391.7" font-size="16.5" fill="#fff" stroke="#b10b0b" stroke-width="0.3" text-anchor="middle">1</text>
<line x1="398.3" y1="395.8" x2="394.2" y2="410" stroke="#7a7a7a" stroke-width="0.9"/>
<circle cx="400.8" cy="385.8" r="9.3" fill="url(#gk)"/>
<text x="400.8" y="391.7" font-size="16.5" fill="#fff" stroke="#2a2a2a" stroke-width="0.3" text-anchor="middle">1</text>
<line x1="425.4" y1="420.3" x2="421.3" y2="436.9" stroke="#7a7a7a" stroke-width="0.9"/>
<circle cx="428.9" cy="409.9" r="9.3" fill="url(#gb)"/>
<text x="428.9" y="415.79999999999995" font-size="16.5" fill="#fff" stroke="#4a80bd" stroke-width="0.3" text-anchor="middle">1</text>
<line x1="248.9" y1="470" x2="244.4" y2="485.6" stroke="#7a7a7a" stroke-width="0.9"/>
<circle cx="251.3" cy="460" r="9.3" fill="url(#gr)"/>
<text x="251.3" y="465.9" font-size="16.5" fill="#fff" stroke="#b10b0b" stroke-width="0.3" text-anchor="middle">9</text>
<line x1="276.1" y1="470.6" x2="272.2" y2="485.6" stroke="#7a7a7a" stroke-width="0.9"/>
<circle cx="278.7" cy="460" r="9.3" fill="url(#gk)"/>
<text x="278.7" y="465.9" font-size="16.5" fill="#fff" stroke="#2a2a2a" stroke-width="0.3" text-anchor="middle">4</text>
<rect x="658" y="234" width="513" height="48" fill="#f2f2f2"/>
<rect x="658" y="282.65" width="139" height="28.20" fill="url(#tor)"/>
<rect x="798.3" y="282.65" width="159.7" height="28.20" fill="#d8d8d8"/>
<rect x="959.3" y="282.65" width="211.7" height="28.20" fill="#d8d8d8"/>
<text x="727.5" y="302.1" class="ti" text-anchor="middle">ТиНАО</text>
<text x="878" y="302.1" class="nu" text-anchor="middle">9</text>
<text x="1064.5" y="302.1" class="nu" text-anchor="middle">4</text>
<rect x="658" y="312.15" width="139" height="27.50" fill="url(#tgr)"/>
<rect x="798.3" y="312.15" width="159.7" height="27.50" fill="#d8d8d8"/>
<rect x="959.3" y="312.15" width="211.7" height="27.50" fill="#d8d8d8"/>
<text x="727.5" y="331.2" class="ti" text-anchor="middle">САО</text>
<text x="878" y="331.2" class="nu" text-anchor="middle">3</text>
<text x="1064.5" y="331.2" class="nu" text-anchor="middle">3</text>
<rect x="658" y="340.95" width="139" height="27.40" fill="url(#tgr)"/>
<rect x="798.3" y="340.95" width="159.7" height="27.40" fill="#d8d8d8"/>
<rect x="959.3" y="340.95" width="211.7" height="27.40" fill="#d8d8d8"/>
<text x="727.5" y="359.9" class="ti" text-anchor="middle">ЮВАО</text>
<text x="878" y="359.9" class="nu" text-anchor="middle">5</text>
<text x="1064.5" y="359.9" class="nu" text-anchor="middle">1</text>
<rect x="658" y="369.65" width="139" height="27.40" fill="url(#tbl)"/>
<rect x="798.3" y="369.65" width="159.7" height="27.40" fill="#d8d8d8"/>
<rect x="959.3" y="369.65" width="211.7" height="27.40" fill="#d8d8d8"/>
<text x="727.5" y="388.7" class="ti" text-anchor="middle">ЗАО</text>
<text x="878" y="388.7" class="nu" text-anchor="middle">2</text>
<text x="1064.5" y="388.7" class="nu" text-anchor="middle">2</text>
<rect x="658" y="398.35" width="139" height="27.50" fill="url(#tbl)"/>
<rect x="798.3" y="398.35" width="159.7" height="27.50" fill="#d8d8d8"/>
<rect x="959.3" y="398.35" width="211.7" height="27.50" fill="#d8d8d8"/>
<text x="727.5" y="417.4" class="ti" text-anchor="middle">СВАО</text>
<text x="878" y="417.4" class="nu" text-anchor="middle">1</text>
<text x="1064.5" y="417.4" class="nu" text-anchor="middle">3</text>
<rect x="658" y="427.15" width="139" height="27.50" fill="url(#trd)"/>
<rect x="798.3" y="427.15" width="159.7" height="27.50" fill="#d8d8d8"/>
<rect x="959.3" y="427.15" width="211.7" height="27.50" fill="#d8d8d8"/>
<text x="727.5" y="446.2" class="ti" text-anchor="middle">ЮАО</text>
<text x="878" y="446.2" class="nu" text-anchor="middle">1</text>
<text x="1064.5" y="446.2" class="nu" text-anchor="middle">1</text>
<rect x="658" y="455.95" width="139" height="27.20" fill="url(#tye)"/>
<rect x="798.3" y="455.95" width="159.7" height="27.20" fill="#d8d8d8"/>
<rect x="959.3" y="455.95" width="211.7" height="27.20" fill="#d8d8d8"/>
<text x="727.5" y="474.9" class="ti" text-anchor="middle">СЗАО</text>
<text x="1064.5" y="474.9" class="nu" text-anchor="middle">2</text>
<rect x="658" y="484.45" width="139" height="26.60" fill="url(#tye)"/>
<rect x="798.3" y="484.45" width="159.7" height="26.60" fill="#d8d8d8"/>
<rect x="959.3" y="484.45" width="211.7" height="26.60" fill="#d8d8d8"/>
<text x="727.5" y="503.1" class="ti" text-anchor="middle">ЗелАО</text>
<text x="1064.5" y="503.1" class="nu" text-anchor="middle">2</text>
<rect x="658" y="512.35" width="139" height="27.30" fill="url(#tgy)"/>
<rect x="798.3" y="512.35" width="159.7" height="27.30" fill="#d8d8d8"/>
<rect x="959.3" y="512.35" width="211.7" height="27.30" fill="#d8d8d8"/>
<text x="727.5" y="531.3" class="ti" text-anchor="middle">ВАО</text>
<text x="878" y="531.3" class="nu" text-anchor="middle">1</text>
<rect x="658" y="540.95" width="139" height="26.90" fill="url(#tgy)"/>
<rect x="798.3" y="540.95" width="159.7" height="26.90" fill="#d8d8d8"/>
<rect x="959.3" y="540.95" width="211.7" height="26.90" fill="#d8d8d8"/>
<text x="727.5" y="559.7" class="ti" text-anchor="middle">ЮЗАО</text>
<text x="1064.5" y="559.7" class="nu" text-anchor="middle">1</text>
<rect x="658" y="569.15" width="139" height="26.20" fill="url(#tgy)"/>
<rect x="798.3" y="569.15" width="159.7" height="26.20" fill="#d8d8d8"/>
<rect x="959.3" y="569.15" width="211.7" height="26.20" fill="#d8d8d8"/>
<text x="727.5" y="587.5" class="ti" text-anchor="middle">ЦАО</text>
<text x="1064.5" y="587.5" class="nu" text-anchor="middle">1</text>
<rect x="658" y="596.65" width="513" height="27.75" fill="#f2f2f2"/>
<text x="727.5" y="615.5" class="ti" text-anchor="middle">ИТОГО</text>
<text x="878" y="615.5" class="ti" text-anchor="middle">22</text>
<text x="1064.5" y="615.5" class="ti" text-anchor="middle">20</text>
<text x="705.6" y="265.1" class="th" textLength="43.7" lengthAdjust="spacingAndGlyphs">Округ</text>
<text x="828.2" y="255.5" class="th" textLength="98.4" lengthAdjust="spacingAndGlyphs">Дошкольные</text>
<text x="832.3" y="273.3" class="th" textLength="90.2" lengthAdjust="spacingAndGlyphs">учреждения</text>
<text x="970.4" y="255.5" class="th" textLength="189.5" lengthAdjust="spacingAndGlyphs">Среднеобразовательные</text>
<text x="1019.6" y="273.3" class="th" textLength="89.7" lengthAdjust="spacingAndGlyphs">учреждения</text>
<line x1="820.9" y1="241.7" x2="816.4" y2="258.3" stroke="#7a7a7a" stroke-width="0.9"/>
<circle cx="823.3" cy="232.2" r="9.4" fill="url(#gr)"/>
<line x1="963.9" y1="241.7" x2="959.1" y2="258.3" stroke="#7a7a7a" stroke-width="0.9"/>
<circle cx="966.7" cy="231.7" r="9.4" fill="url(#gk)"/>
</svg>
</body></html>
